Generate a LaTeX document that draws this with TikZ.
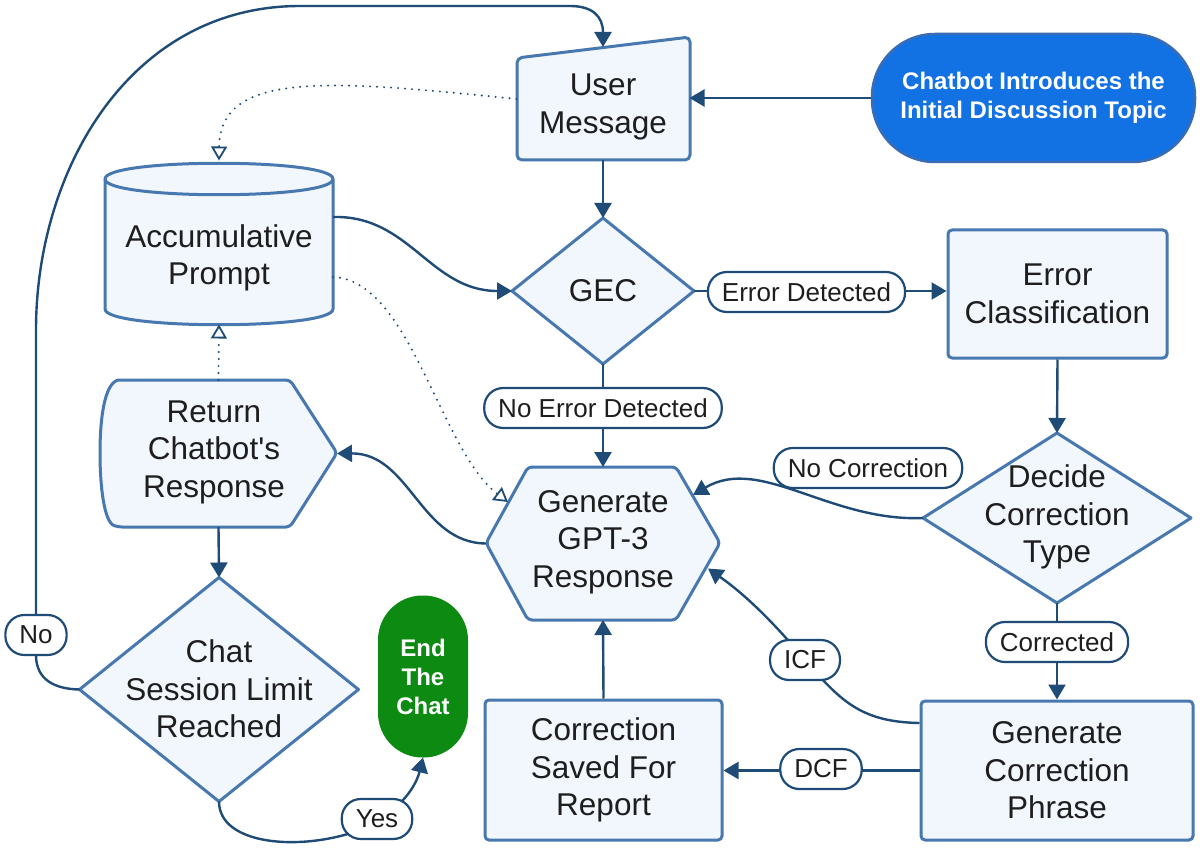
\documentclass[tikz,border=0pt]{standalone}
\usepackage{fontspec}
\setmainfont{Liberation Sans}
\newfontfamily\plainfont{Liberation Sans}
\usetikzlibrary{shapes.geometric,arrows.meta}
\definecolor{boxfill}{HTML}{F1F7FD}
\definecolor{boxline}{HTML}{4878B0}
\definecolor{conn}{HTML}{1F4B77}
\definecolor{txtc}{HTML}{1E1E1E}
\definecolor{startblue}{HTML}{1271E3}
\definecolor{startline}{HTML}{3A6CB5}
\definecolor{endgreen}{HTML}{0C8A12}
\begin{document}
\begin{tikzpicture}[x=1pt,y=-1pt,
  shp/.style={draw=boxline,line width=3pt,fill=boxfill,line join=round},
  txt/.style={font=\fontsize{31.5}{37.5}\selectfont,text=txtc,align=center},
  frame/.style={inner sep=0pt,outer sep=0pt},
  boxnode/.style={shp,txt,rounded corners=4pt,inner sep=0pt},
  dia/.style={shp,diamond,inner sep=0pt,outer sep=0pt},
  lbl/.style={draw=conn,line width=2.2pt,fill=white,rounded corners=19pt,font=\fontsize{26}{30}\selectfont,text=txtc,minimum height=40pt,inner xsep=14pt,inner ysep=0pt},
  flow/.style={draw=conn,line width=2.4pt,-{Triangle[length=15pt,width=17pt]}},
  dots/.style={draw=conn,line width=2.2pt,line cap=round,dash pattern=on 0pt off 7pt,-{Triangle[open,length=14pt,width=16pt,fill=white,line width=1.8pt]}},
]
\fill[white] (0,0) rectangle (1200,853);
\useasboundingbox (0,0) rectangle (1200,853);

% ---- shapes ----
% User Message (manual input)
\draw[shp,rounded corners=5pt] (517,58) -- (690,37) -- (690,160) -- (517,160) -- cycle;
\node[frame,minimum width=173pt,minimum height=122pt] (um) at (603,99) {};
\node[txt] (umt) at (603,107) {User\\Message};
\coordinate (umtop) at (603,47);

% start terminator
\node[draw=startline,line width=2.5pt,fill=startblue,rounded corners=63pt,minimum width=323pt,minimum height=128pt,text=white,font=\bfseries\fontsize{24}{29}\selectfont,align=center] (start) at (1033.5,98) {Chatbot Introduces the\\Initial Discussion Topic};

% Accumulative Prompt (cylinder)
\draw[shp] (105,179) .. controls (105,158) and (333,158) .. (333,179) -- (333,309) .. controls (333,330) and (105,330) .. (105,309) -- cycle;
\draw[shp,fill=none] (105,179) .. controls (105,200) and (333,200) .. (333,179);
\node[frame,minimum width=228pt,minimum height=161pt] (acc) at (219,244) {};
\node[txt] (acct) at (219,258) {Accumulative\\Prompt};

% GEC
\node[dia,minimum width=182pt,minimum height=146pt] (gec) at (603,291) {};
\node[txt] (gect) at (603,291) {GEC};

% Error Classification
\node[boxnode,minimum width=219pt,minimum height=128pt] (ec) at (1057.5,294) {Error\\Classification};

% Return Chatbot's Response (display)
\draw[shp,rounded corners=4pt] (118,380) -- (290,380) -- (337,453) -- (290,527) -- (118,527)
  [sharp corners] .. controls (104,522) and (100,486) .. (100,453) .. controls (100,420) and (104,384) .. (118,380) -- cycle;
\node[frame,minimum width=237pt,minimum height=147pt] (ret) at (218.5,453.5) {};
\node[txt] (rett) at (214,452) {Return\\{\plainfont Chatbot's}\\Response};

% Generate GPT-3 Response (hexagon)
\draw[shp,rounded corners=4pt] (486,543) -- (528,467) -- (676,467) -- (720,543) -- (676,620) -- (528,620) -- cycle;
\node[frame,minimum width=234pt,minimum height=153pt] (gpt) at (603,543.5) {};
\node[txt] (gptt) at (603,542) {Generate\\GPT-3\\Response};

% Decide Correction Type
\node[dia,minimum width=268pt,minimum height=170pt] (dec) at (1057,518) {};
\node[txt] (dect) at (1057,517) {Decide\\Correction\\Type};

% Generate Correction Phrase
\node[boxnode,minimum width=272pt,minimum height=139pt] (gcp) at (1057,770.5) {Generate\\Correction\\Phrase};

% Correction Saved For Report
\node[boxnode,minimum width=237pt,minimum height=140pt] (cs) at (603.5,770) {Correction\\Saved For\\Report};

% Chat Session Limit Reached
\node[dia,minimum width=279pt,minimum height=224pt] (chat) at (219,689.5) {};
\node[txt] (chatt) at (219,689) {Chat\\Session Limit\\Reached};

% End The Chat
\node[draw=endgreen,line width=2pt,fill=endgreen,rounded corners=43.5pt,minimum width=88pt,minimum height=160pt,text=white,font=\bfseries\fontsize{24}{29}\selectfont,align=center] (end) at (423,676.5) {End\\The\\Chat};

% ---- connectors ----
\draw[flow] (start.west) -- (start.west -| um.east);
\draw[flow] (um.south) -- (gec.north);
\draw[flow] ([yshift=27pt]acc.east) .. controls (410,215) and (430,291) .. (gec.west);
\draw[dots] (um.west) .. controls (330,80) and (220,70) .. ([yshift=3pt]acc.north);
\draw[dots] ([yshift=-33pt]acc.east) .. controls (410,280) and (440,450) .. ([xshift=22pt,yshift=-35pt]gpt.north west);
\draw[dots] (ret.north) -- (acc.south);
\draw[flow] (gec.east) -- (gec.east -| ec.west);
\draw[flow] (gec.south) -- (gpt.north);
\draw[flow] (ec.south) -- (dec.north);
\draw[flow] (dec.west) .. controls (830,522) and (760,455) .. ([xshift=-27pt,yshift=-28pt]gpt.north east);
\draw[flow] (dec.south) -- (gcp.north);
\draw[flow] ([yshift=47.5pt]gcp.west) .. controls (860,722) and (840,700) .. (805,660) .. controls (780,630) and (750,598) .. ([xshift=-12pt,yshift=-25pt]gpt.east);
\draw[flow] (gcp.west) -- (gcp.west -| cs.east);
\draw[flow] (cs.north) -- (gpt.south);
\draw[flow] (gpt.west) .. controls (420,543) and (410,453) .. (ret.east);
\draw[flow] (ret.south) -- (chat.north);
\draw[flow] (chat.west) .. controls (55,689) and (36,680) .. (36,655) -- (36,330) .. controls (36,170) and (130,6) .. (300,6) -- (570,6) .. controls (592,6) and (603,16) .. (umtop);
\draw[flow] (chat.south) .. controls (219,845) and (300,852) .. (360,830) .. controls (395,815) and (415,790) .. (end.south);

% ---- labels ----
\node[lbl] (ed) at (806.5,292) {Error Detected};
\node[lbl] (ned) at (603,408) {No Error Detected};
\node[lbl] (nc) at (868,468) {No Correction};
\node[lbl] (cor) at (1057,642) {Corrected};
\node[lbl] (icf) at (805,660) {ICF};
\node[lbl] (dcf) at (821,769) {DCF};
\node[lbl] (no) at (36,635) {No};
\node[lbl] (yes) at (377,819) {Yes};
\end{tikzpicture}
\end{document}
